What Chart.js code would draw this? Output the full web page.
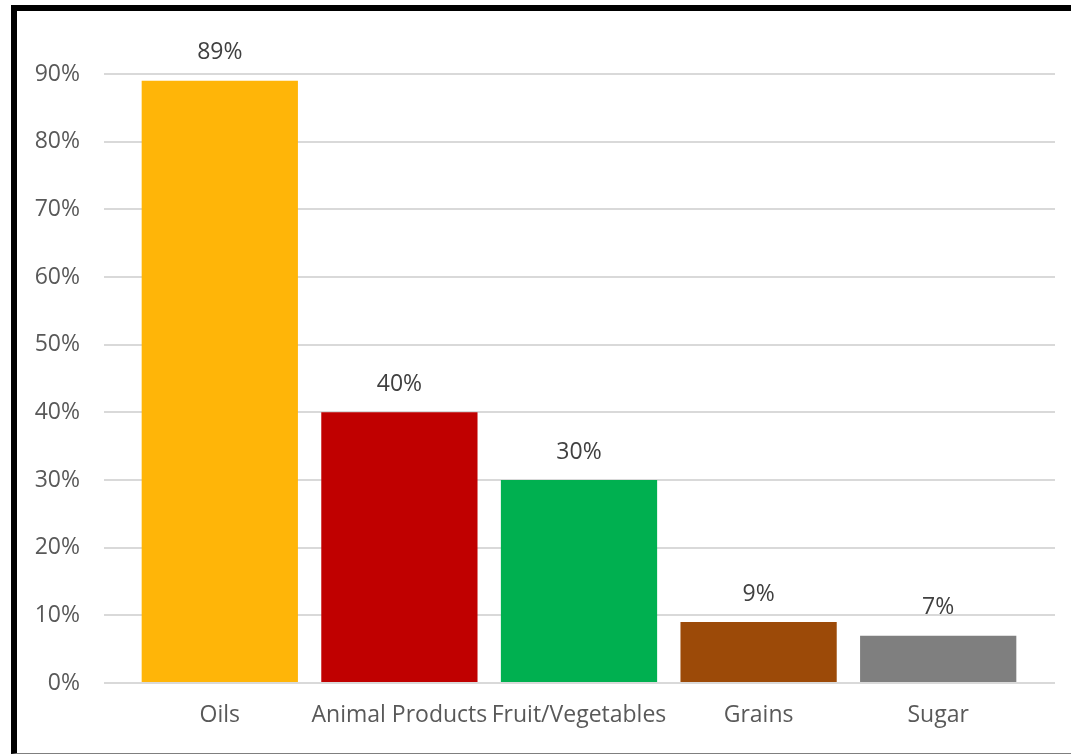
<!DOCTYPE html>
<html>
<head>
<meta charset="utf-8">
<script src="https://cdn.jsdelivr.net/npm/chart.js@4/dist/chart.umd.min.js"></script>
<style>
  html, body { margin: 0; padding: 0; background: #fff; }
  #wrap { position: relative; width: 1071px; height: 754px; overflow: hidden; }
  #frame {
    position: absolute; left: 11px; top: 5px; width: 1080px; height: 742px;
    border-top: 6px solid #000; border-left: 6px solid #000; border-bottom: 1px solid #7f7f7f;
    box-sizing: content-box; pointer-events: none;
  }
  canvas { position: absolute; left: 0; top: 0; }
</style>
</head>
<body>
<div id="wrap">
  <canvas id="c" width="1071" height="754"></canvas>
  <div id="frame"></div>
</div>
<script>
// Share of each food group (percent)
const categories = ['Oils', 'Animal Products', 'Fruit/Vegetables', 'Grains', 'Sugar'];
const shares = [89, 40, 30, 9, 7];
const barColors = ['#FFB508', '#C00000', '#00B050', '#9C4A08', '#7F7F7F'];
const yTicks = [0, 10, 20, 30, 40, 50, 60, 70, 80, 90];

const FONT = '"Open Sans", sans-serif';
const GRID = '#d9d9d9';

// Value labels drawn just above each bar
const valueLabels = {
  id: 'valueLabels',
  afterDatasetsDraw(chart) {
    const ctx = chart.ctx;
    const meta = chart.getDatasetMeta(0);
    ctx.save();
    ctx.font = '23px ' + FONT;
    ctx.fillStyle = '#404040';
    ctx.textAlign = 'center';
    ctx.textBaseline = 'middle';
    meta.data.forEach((bar, i) => {
      ctx.fillText(shares[i] + '%', bar.x, bar.y - 28);
    });
    ctx.restore();
  }
};

const fixedTicks = scale => { scale.ticks = yTicks.map(v => ({ value: v })); };

new Chart(document.getElementById('c'), {
  type: 'bar',
  data: {
    labels: categories,
    datasets: [{
      data: shares,
      backgroundColor: barColors,
      borderWidth: 0,
      barPercentage: 0.87,
      categoryPercentage: 1.0
    }]
  },
  options: {
    responsive: false,
    animation: false,
    layout: { padding: { top: 74, right: 16, left: 0, bottom: 0 } },
    plugins: { legend: { display: false }, tooltip: { enabled: false } },
    scales: {
      x: {
        grid: { display: false, drawTicks: false },
        border: { display: false },
        ticks: { color: '#595959', font: { family: FONT, size: 23 }, padding: 19, maxRotation: 0 },
        afterFit(scale) { scale.height = 71; }
      },
      y: {
        min: 0,
        max: 90,
        afterBuildTicks: fixedTicks,
        grid: { color: GRID, lineWidth: 2, drawTicks: true, tickLength: 26 },
        border: { display: false },
        ticks: {
          color: '#595959',
          font: { family: FONT, size: 23 },
          padding: 24,
          callback: v => v + '%'
        },
        afterFit(scale) { scale.width = 130; }
      },
      // right-hand axis only carries the gridline overhang past the last bar
      yRight: {
        position: 'right',
        min: 0,
        max: 90,
        afterBuildTicks: fixedTicks,
        grid: { color: GRID, lineWidth: 2, drawOnChartArea: false, drawTicks: true, tickLength: 27 },
        border: { display: false },
        ticks: { display: false },
        afterFit(scale) { scale.width = 27; }
      }
    }
  },
  plugins: [valueLabels]
});
</script>
</body>
</html>
